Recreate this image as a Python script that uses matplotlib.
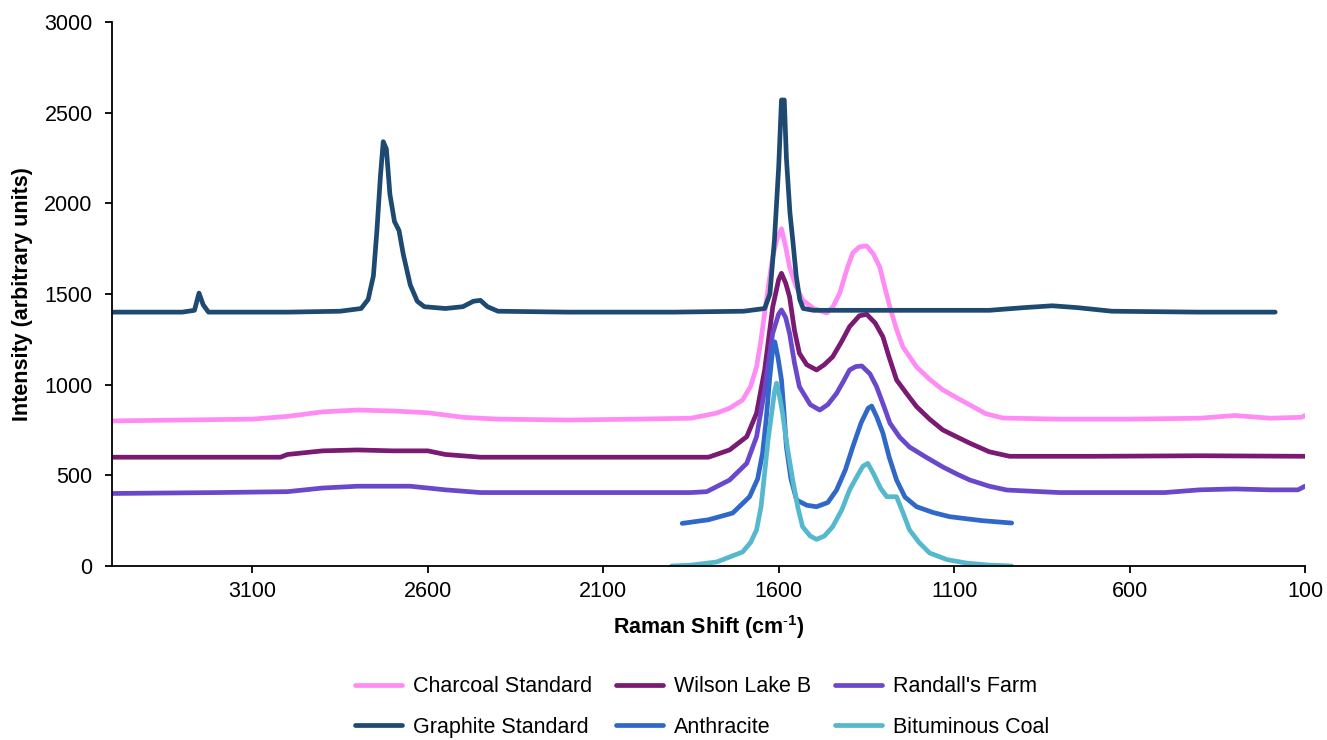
import matplotlib
matplotlib.use("Agg")
import matplotlib.pyplot as plt

plt.rcParams['font.family'] = ['Liberation Sans', 'DejaVu Sans']
plt.rcParams['mathtext.fontset'] = 'custom'
plt.rcParams['mathtext.rm'] = 'Liberation Sans'
plt.rcParams['mathtext.bf'] = 'Liberation Sans:bold'

# ---- data (Raman shift cm-1, intensity) ----
graphite_x = [3500, 3300, 3265, 3252, 3240, 3225, 3000, 2850, 2790, 2770, 2755, 2745, 2735, 2727, 2718, 2708,
              2695, 2682, 2670, 2650, 2630, 2610, 2550, 2500, 2470, 2450, 2430, 2400, 2200, 1900, 1700, 1640,
              1625, 1612, 1600, 1592, 1584, 1578, 1568, 1560, 1550, 1540, 1530, 1500, 1300, 1000, 900, 820,
              750, 650, 400, 185]
graphite_y = [1400, 1400, 1410, 1505, 1440, 1400, 1400, 1405, 1420, 1470, 1600, 1850, 2150, 2340, 2300, 2050,
              1900, 1850, 1720, 1550, 1460, 1430, 1420, 1430, 1460, 1465, 1430, 1405, 1400, 1400, 1405, 1420,
              1500, 1800, 2200, 2570, 2570, 2250, 1950, 1800, 1600, 1470, 1420, 1410, 1410, 1410, 1425, 1435,
              1425, 1405, 1400, 1400]

charcoal_x = [3500, 3300, 3100, 3000, 2900, 2800, 2700, 2600, 2500, 2400, 2200, 2000, 1850, 1777, 1740, 1703,
              1680, 1663, 1650, 1640, 1628, 1617, 1605, 1592, 1580, 1569, 1550, 1532, 1500, 1463, 1445, 1426,
              1405, 1389, 1370, 1349, 1330, 1312, 1298, 1283, 1265, 1246, 1207, 1170, 1132, 1090, 1055, 1010,
              961, 800, 600, 400, 300, 200, 110, 100]
charcoal_y = [800, 805, 810, 825, 850, 860, 855, 845, 820, 810, 805, 810, 815, 843, 870, 915,
              990, 1098, 1250, 1395, 1560, 1705, 1800, 1860, 1760, 1649, 1540, 1467, 1420, 1395, 1430, 1505,
              1640, 1726, 1760, 1765, 1720, 1649, 1540, 1428, 1310, 1208, 1098, 1030, 971, 925, 888, 840,
              816, 810, 810, 815, 830, 815, 820, 830]

wilson_x = [3500, 3020, 3000, 2900, 2800, 2700, 2600, 2550, 2450, 1800, 1740, 1691, 1663, 1640, 1617, 1600,
            1592, 1580, 1569, 1555, 1541, 1520, 1492, 1470, 1446, 1420, 1398, 1370, 1349, 1325, 1303, 1285,
            1264, 1235, 1207, 1170, 1132, 1090, 1055, 1000, 942, 700, 400, 100]
wilson_y = [600, 600, 615, 635, 640, 635, 635, 615, 600, 600, 640, 713, 843, 1081, 1428, 1580,
            1614, 1560, 1485, 1300, 1173, 1110, 1081, 1110, 1154, 1240, 1320, 1380, 1388, 1340, 1264, 1150,
            1026, 950, 879, 810, 750, 710, 677, 630, 605, 605, 608, 605]

randall_x = [3500, 3200, 3000, 2900, 2800, 2650, 2550, 2450, 1850, 1805, 1740, 1691, 1663, 1640, 1617, 1600,
             1592, 1580, 1569, 1555, 1541, 1510, 1483, 1460, 1435, 1415, 1398, 1380, 1363, 1340, 1321, 1300,
             1283, 1255, 1227, 1180, 1132, 1090, 1055, 1000, 950, 800, 500, 400, 300, 200, 120, 100]
randall_y = [400, 405, 410, 430, 440, 440, 420, 405, 405, 410, 474, 566, 713, 971, 1283, 1390,
             1412, 1370, 1283, 1120, 989, 890, 860, 890, 952, 1020, 1081, 1100, 1103, 1060, 989, 880,
             788, 710, 656, 600, 546, 505, 474, 440, 419, 405, 405, 420, 425, 420, 420, 440]

anthracite_x = [1875, 1800, 1731, 1683, 1660, 1646, 1636, 1626, 1618, 1611, 1602, 1592, 1585, 1578, 1565, 1549,
                1520, 1492, 1460, 1435, 1410, 1389, 1365, 1345, 1335, 1320, 1303, 1285, 1264, 1240, 1207, 1160,
                1113, 1020, 936]
anthracite_y = [235, 255, 292, 382, 480, 621, 800, 1026, 1180, 1236, 1150, 1026, 850, 656, 480, 364,
                335, 327, 350, 419, 530, 656, 790, 870, 882, 820, 733, 600, 474, 380, 327, 295,
                272, 250, 237]

bitum_x = [1905, 1850, 1777, 1703, 1680, 1663, 1650, 1640, 1630, 1620, 1612, 1606, 1598, 1589, 1575, 1560,
           1545, 1532, 1510, 1492, 1470, 1446, 1420, 1398, 1375, 1360, 1346, 1330, 1310, 1292, 1264, 1245,
           1227, 1200, 1170, 1120, 1064, 1000, 936]
bitum_y = [0, 5, 22, 77, 130, 199, 330, 513, 700, 843, 960, 1008, 940, 843, 650, 474,
           320, 217, 165, 147, 165, 217, 310, 419, 500, 550, 566, 510, 430, 382, 382, 290,
           199, 130, 72, 35, 16, 5, 0]

series_names = ["Charcoal Standard", "Wilson Lake B", "Randall's Farm",
                "Graphite Standard", "Anthracite", "Bituminous Coal"]
series_colors = ["#FF8CF4", "#7A1A72", "#6A48CC", "#1E4A72", "#2F68C8", "#55B8CC"]
series_data = [(charcoal_x, charcoal_y), (wilson_x, wilson_y), (randall_x, randall_y),
               (graphite_x, graphite_y), (anthracite_x, anthracite_y), (bitum_x, bitum_y)]

x_ticks = [3100, 2600, 2100, 1600, 1100, 600, 100]
y_ticks = [0, 500, 1000, 1500, 2000, 2500, 3000]

FS = 15.5

fig = plt.figure(figsize=(13.27, 7.40), dpi=100)
ax = fig.add_axes([112/1327, 1-566/740, (1305-112)/1327, (566-22)/740])

lines = {}
for name, col, (xs, ys) in zip(series_names, series_colors, series_data):
    ln, = ax.plot(xs, ys, color=col, lw=3.4, solid_capstyle='round', solid_joinstyle='round', label=name)
    lines[name] = ln

ax.set_xlim(3500, 100)
ax.set_ylim(0, 3000)
ax.set_xticks(x_ticks)
ax.set_yticks(y_ticks)
ax.tick_params(axis='both', direction='out', length=5, width=1.3, labelsize=FS, colors='black')
ax.tick_params(axis='x', pad=6)
ax.tick_params(axis='y', pad=9)
for s in ['top', 'right']:
    ax.spines[s].set_visible(False)
for s in ['left', 'bottom']:
    ax.spines[s].set_linewidth(1.3)
    ax.spines[s].set_color('black')

ax.set_xlabel(r'Raman Shift (cm$^{\mathbf{\text{-}1}}$)', fontsize=FS, fontweight='bold', labelpad=8)
ax.set_ylabel('Intensity (arbitrary units)', fontsize=FS, fontweight='bold', labelpad=8)

order = ["Charcoal Standard", "Graphite Standard", "Wilson Lake B", "Anthracite",
         "Randall's Farm", "Bituminous Coal"]
fig.legend([lines[n] for n in order], order, loc='center', bbox_to_anchor=(702/1327, 1-707/740),
           ncol=3, frameon=False, fontsize=FS, handlelength=2.2, handletextpad=0.5,
           columnspacing=1.1, labelspacing=0.9)

fig.savefig("out.png", dpi=100)
